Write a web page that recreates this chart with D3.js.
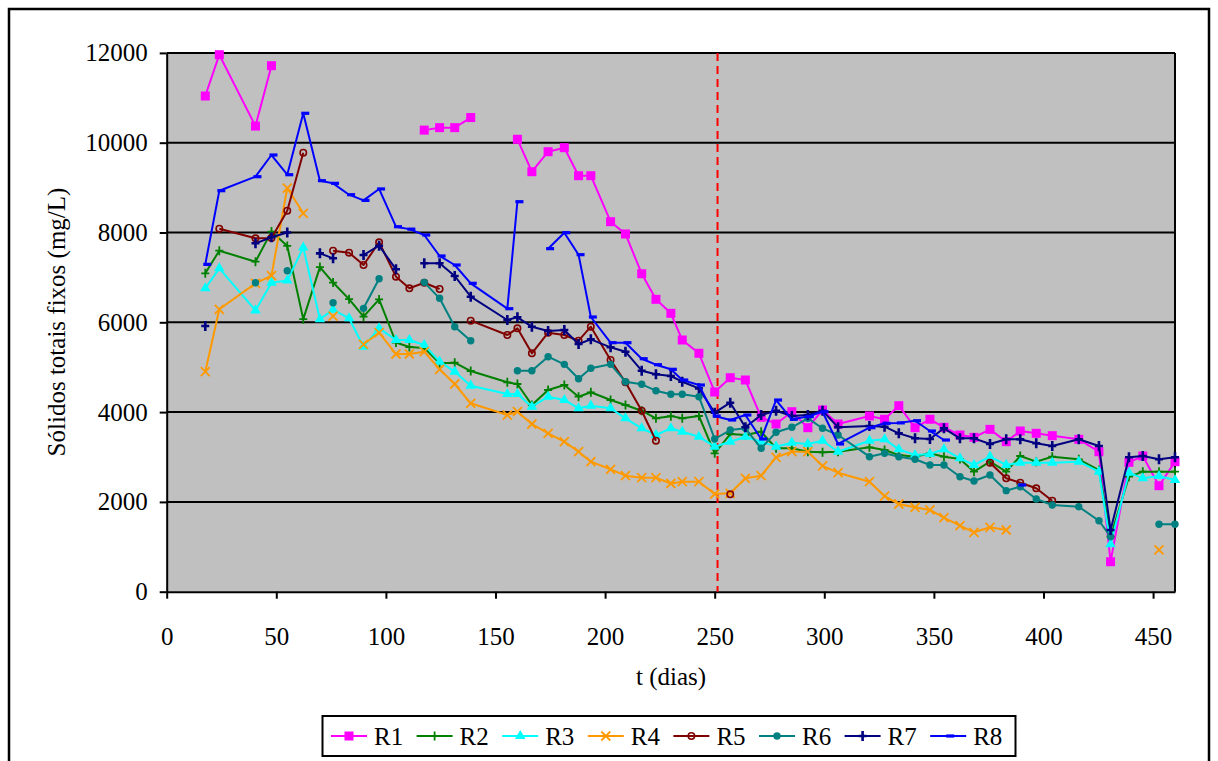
<!DOCTYPE html>
<html>
<head>
<meta charset="utf-8">
<script src="https://cdn.jsdelivr.net/npm/d3@7"></script>
<style>
  body { margin: 0; background: #fff; }
  svg { display: block; }
  text { font-family: "Liberation Serif", "Times New Roman", serif; fill: #000; }
</style>
</head>
<body>
<svg id="chart" width="1218" height="761"></svg>
<script>
// sampling days (t, dias)
const days = [17.6, 24, 40.5, 47.8, 55, 62.3, 69.9, 75.9, 83.2, 89.8,
  96.9, 104.6, 110.7, 117.5, 124.5, 131.4, 138.7, 155.4, 160, 166.6,
  174, 181.4, 187.9, 193.5, 202.5, 209.3, 216.7, 223.2, 230, 235.2,
  242.8, 250, 257.1, 264, 271.2, 278, 285.2, 292.5, 299.2, 306.3,
  320.6, 327.5, 334, 341.4, 348.2, 354.6, 361.9, 368.3, 375.6, 383,
  389.4, 396.7, 404, 416.1, 425.3, 430.6, 439, 445.3, 452.7, 460];

// Sólidos totais fixos (mg/L) per reactor, null = no sample
const r1 = [11040, 11960, 10370, 11715, null, null, null, null, null, null,
  null, null, null, 10280, 10335, 10335, 10560, null, 10076, 9354,
  9800, 9889, 9265, 9265, 8241, 7967, 7082, 6512, 6200, 5606,
  5310, 4448, 4766, 4715, 3884, 3735, 4009, 3653, 4047, 3735,
  3913, 3840, 4143, 3653, 3840, 3661, 3490, 3438, 3616, 3341,
  3579, 3527, 3475, 3394, 3118, 668, 2882, 3022, 2361, 2896];
const r2 = [7091, 7595, 7350, 8020, 7700, 6070, 7230, 6885, 6515, 6125,
  6510, 5550, 5450, 5430, 5087, 5100, 4915, 4664, 4626, 4158,
  4492, 4604, 4343, 4441, 4270, 4158, 4031, 3862, 3910, 3862,
  3913, 3082, 3512, 3490, 3563, 3194, 3194, 3118, 3104, 3118,
  3216, 3156, 3045, 3007, 3082, 3007, 2955, 2673, 2896, 2673,
  3022, 2896, 3007, 2949, 2710, 1225, 2561, 2673, 2673, 2673];
const r3 = [6757, 7202, 6265, 6882, 6930, 7665, 6067, 6282, 6089, 5457,
  5866, 5606, 5606, 5494, 5123, 4900, 4588, 4403, 4403, 4120,
  4343, 4270, 4085, 4143, 4085, 3862, 3639, 3490, 3639, 3563,
  3452, 3230, 3341, 3452, 3341, 3230, 3319, 3290, 3363, 3118,
  3363, 3394, 3171, 3045, 3067, 3171, 2971, 2822, 3007, 2822,
  2873, 2873, 2873, 2896, 2673, 1055, 2651, 2525, 2577, 2488];
const r4 = [4900, 6290, 6869, 7040, 8990, 8428, null, 6140, null, 5510,
  5768, 5294, 5294, 5345, 4953, 4626, 4196, 3935, 4009, 3735,
  3527, 3341, 3118, 2896, 2726, 2584, 2539, 2539, 2410, 2450,
  2450, 2176, 2191, 2525, 2584, 2993, 3118, 3118, 2800, 2651,
  2450, 2131, 1953, 1880, 1820, 1648, 1470, 1323, 1434, 1374,
  null, null, null, null, null, null, null, null, 929, null];
const r5 = [null, 8085, 7871, 7880, 8486, 9777, null, 7595, 7550, 7276,
  7782, 7016, 6757, 6880, 6742, null, 6036, 5717, 5866, 5309,
  5768, 5717, 5590, 5902, 5160, 4664, 4031, 3363, null, null,
  null, null, 2169, null, null, null, null, null, null, null,
  null, null, null, null, null, null, null, null, 2873, 2525,
  2428, 2303, 2027, null, null, null, null, null, null, null];
const r6 = [null, null, 6882, null, 7149, null, null, 6437, null, 6311,
  6971, null, null, 6890, 6534, 5902, 5590, null, 4922, 4922,
  5234, 5064, 4744, 4975, 5064, 4677, 4619, 4477, 4396, 4396,
  4343, 3401, 3601, 3639, 3194, 3550, 3661, 3862, 3639, 3490,
  3007, 3082, 3007, 2949, 2822, 2822, 2561, 2466, 2599, 2250,
  2339, 2065, 1931, 1893, 1581, 1225, null, null, 1501, 1501];
const r7 = [5917, null, 7759, 7893, 8000, null, 7536, 7425, null, 7499,
  7706, 7180, null, 7314, 7314, 7031, 6570, 6051, 6111, 5902,
  5806, 5828, 5517, 5621, 5443, 5345, 4922, 4842, 4804, 4677,
  4529, 3987, 4209, 3661, 3935, 4031, 3913, 3935, 4031, 3661,
  3690, 3675, 3527, 3416, 3401, 3639, 3416, 3416, 3290, 3394,
  3394, 3305, 3245, 3394, 3245, 1374, 2993, 3022, 2949, 2993];
const r8 = [7290, 8931, 9243, 9726, 9287, 10655, 9154, 9095, 8842, 8715,
  8970, 8129, 8075, 7944, 7477, 7276, 6868, 6303, 8686, null,
  7640, 7996, 7506, 6118, 5546, 5546, 5189, 5056, 4953, 4715,
  4603, 3913, 3824, 3935, 3401, 4269, 3840, 3900, 4009, 3290,
  3653, 3750, 3760, 3808, 3579, 3378, null, null, null, null,
  2376, null, null, null, null, null, null, null, null, null];

const names = ["R1", "R2", "R3", "R4", "R5", "R6", "R7", "R8"];
const values = [r1, r2, r3, r4, r5, r6, r7, r8];
const xTicks = [0, 50, 100, 150, 200, 250, 300, 350, 400, 450];
const yTicks = [0, 2000, 4000, 6000, 8000, 10000, 12000];
const markDay = 251.3;

// look of each series
const styles = [
  { color: "#FF00FF", marker: "square" },
  { color: "#008000", marker: "plus" },
  { color: "#00FFFF", marker: "triangle" },
  { color: "#FF9900", marker: "cross" },
  { color: "#800000", marker: "ring" },
  { color: "#008080", marker: "dot" },
  { color: "#000080", marker: "bar" },
  { color: "#0000FF", marker: "dash" }
];

const svg = d3.select("#chart");
const x = d3.scaleLinear().domain([0, 460]).range([166.7, 1175]);
const y = d3.scaleLinear().domain([0, 12000]).range([591.7, 52.9]);
const FS = "25px";

// outer frame
svg.append("rect").attr("x", 9).attr("y", 9).attr("width", 1200).attr("height", 800)
  .attr("fill", "#fff").attr("stroke", "#000").attr("stroke-width", 2.5);

// plot area
svg.append("rect").attr("x", x(0)).attr("y", y(12000))
  .attr("width", x(460) - x(0)).attr("height", y(0) - y(12000)).attr("fill", "#C0C0C0");

svg.append("g").selectAll("line").data(yTicks.filter(t => t > 0)).join("line")
  .attr("x1", x(0)).attr("x2", x(460)).attr("y1", d => y(d)).attr("y2", d => y(d))
  .attr("stroke", "#000").attr("stroke-width", 2);
svg.append("line").attr("x1", x(460)).attr("x2", x(460)).attr("y1", y(12000)).attr("y2", y(0))
  .attr("stroke", "#000").attr("stroke-width", 2);

// axes
const yAxis = svg.append("g").attr("transform", `translate(${x(0)},0)`)
  .call(d3.axisLeft(y).tickValues(yTicks).tickSizeInner(7).tickSizeOuter(0).tickPadding(12).tickFormat(d3.format("d")));
const xAxis = svg.append("g").attr("transform", `translate(0,${y(0)})`)
  .call(d3.axisBottom(x).tickValues(xTicks).tickSizeInner(7).tickSizeOuter(0).tickPadding(29).tickFormat(d3.format("d")));
[yAxis, xAxis].forEach(a => {
  a.select(".domain").attr("stroke", "#000").attr("stroke-width", 2);
  a.selectAll(".tick line").attr("stroke", "#000").attr("stroke-width", 2);
  a.selectAll("text").attr("font-size", FS).attr("font-family", "Liberation Serif").attr("fill", "#000");
});

svg.append("text").attr("x", 671).attr("y", 685).attr("text-anchor", "middle")
  .attr("font-size", FS).text("t (dias)");
svg.append("text").attr("transform", "translate(65,322) rotate(-90)").attr("text-anchor", "middle")
  .attr("font-size", FS).text("Sólidos totais fixos (mg/L)");

// dashed marker line
svg.append("line").attr("x1", x(markDay)).attr("x2", x(markDay)).attr("y1", y(12000)).attr("y2", y(0))
  .attr("stroke", "#FF0000").attr("stroke-width", 2).attr("stroke-dasharray", "8,5");

function drawMarker(g, type, color) {
  switch (type) {
    case "square":
      g.append("rect").attr("x", -4.5).attr("y", -4.5).attr("width", 9).attr("height", 9).attr("fill", color); break;
    case "triangle":
      g.append("path").attr("d", d3.symbol(d3.symbolTriangle, 48)()).attr("fill", color); break;
    case "dot":
      g.append("circle").attr("r", 3.7).attr("fill", color); break;
    case "ring":
      g.append("circle").attr("r", 3.2).attr("fill", "none").attr("stroke", color).attr("stroke-width", 1.6); break;
    case "cross":
      g.append("path").attr("d", "M-4.5,-4.5L4.5,4.5M-4.5,4.5L4.5,-4.5").attr("stroke", color).attr("stroke-width", 1.8); break;
    case "plus":
      g.append("path").attr("d", "M0,-4.5V4.5M-4,0H4").attr("stroke", color).attr("stroke-width", 1.8); break;
    case "bar":
      g.append("path").attr("d", "M0,-5V5M-4,0H4").attr("stroke", color).attr("stroke-width", 2.6); break;
    case "dash":
      g.append("rect").attr("x", -2).attr("y", -1.6).attr("width", 8).attr("height", 3.2).attr("fill", color); break;
  }
}

// series
const line = d3.line().defined(d => d[1] != null).x(d => x(d[0])).y(d => y(d[1]));
values.forEach((vals, s) => {
  const pts = vals.map((v, i) => [days[i], v]);
  const g = svg.append("g");
  g.append("path").datum(pts).attr("d", line).attr("fill", "none")
    .attr("stroke", styles[s].color).attr("stroke-width", 2).attr("stroke-linejoin", "round");
  g.selectAll("g").data(pts.filter(d => d[1] != null)).join("g")
    .attr("transform", d => `translate(${x(d[0])},${y(d[1])})`)
    .each(function () { drawMarker(d3.select(this), styles[s].marker, styles[s].color); });
});

// legend
const lg = svg.append("g");
lg.append("rect").attr("x", 322.5).attr("y", 716).attr("width", 693).attr("height", 40)
  .attr("fill", "#fff").attr("stroke", "#000").attr("stroke-width", 2);
names.forEach((n, i) => {
  const x0 = 331 + i * 85.6, cy = 736;
  const e = lg.append("g");
  e.append("line").attr("x1", x0).attr("x2", x0 + 36).attr("y1", cy).attr("y2", cy)
    .attr("stroke", styles[i].color).attr("stroke-width", 2);
  drawMarker(e.append("g").attr("transform", `translate(${x0 + 18},${cy})`), styles[i].marker, styles[i].color);
  e.append("text").attr("x", x0 + 43).attr("y", cy + 8.5).attr("font-size", FS).text(n);
});
</script>
</body>
</html>
